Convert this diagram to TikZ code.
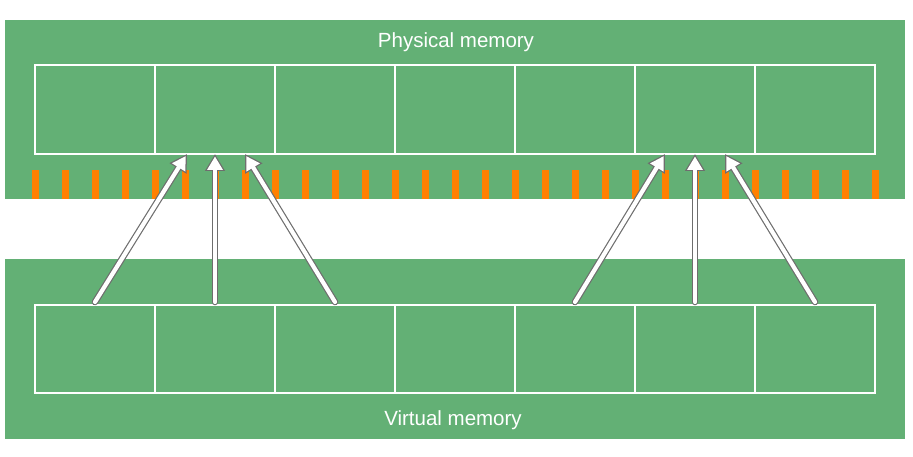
\documentclass[tikz,border=0pt]{standalone}
\usepackage{fontspec}
\setmainfont{Liberation Sans}
\usetikzlibrary{arrows.meta,calc}
\definecolor{memgreen}{RGB}{99,176,117}
\definecolor{dashorange}{RGB}{255,128,0}
\definecolor{arrowgray}{RGB}{110,110,110}
\tikzset{
  panel/.style={fill=memgreen, draw=none, rectangle, inner sep=0pt},
  cell/.style={draw=white, line width=2pt, rectangle, inner sep=0pt, minimum width=120pt},
  topcell/.style={cell, minimum height=89pt},
  botcell/.style={cell, minimum height=88pt},
  label/.style={text=white, font=\fontsize{20.5}{24}\selectfont, inner sep=0pt},
  outerarrow/.style={draw=arrowgray, line width=6.6pt, line cap=round, -{Triangle[length=17pt,width=19pt]}},
  innerarrow/.style={draw=white, line width=4.2pt, line cap=round, -{Triangle[length=13.4pt,width=14.8pt]}, shorten >=2.4pt}
}
\begin{document}
\begin{tikzpicture}[x=1pt,y=-1pt]
\useasboundingbox (0,0) rectangle (913,457);
% panels
\node[panel, minimum width=900pt, minimum height=179pt] (phys) at (455,109.5) {};
\node[panel, minimum width=900pt, minimum height=180pt] (virt) at (455,349) {};
% orange marks
\foreach \i in {0,...,28} {
  \fill[dashorange] (31.5+30*\i,170) rectangle ++(7,29);
}
% cells
\foreach \i in {1,...,7} {
  \node[topcell] (t\i) at (95+120*\i-120,109.5) {};
  \node[botcell] (b\i) at (95+120*\i-120,349) {};
}
% labels
\node[label] (plab) at (456,42) {Physical memory};
\node[label] (vlab) at (453,420) {Virtual memory};
% arrows
\foreach \s/\t/\dx in {b1/t2/-28, b2/t2/0, b3/t2/30, b5/t6/-30, b6/t6/0, b7/t6/30} {
  \draw[outerarrow] ($(\s.north)+(0,-2)$) -- ($(\t.south)+(\dx,-1)$);
  \draw[innerarrow] ($(\s.north)+(0,-2)$) -- ($(\t.south)+(\dx,-1)$);
}
\end{tikzpicture}
\end{document}
